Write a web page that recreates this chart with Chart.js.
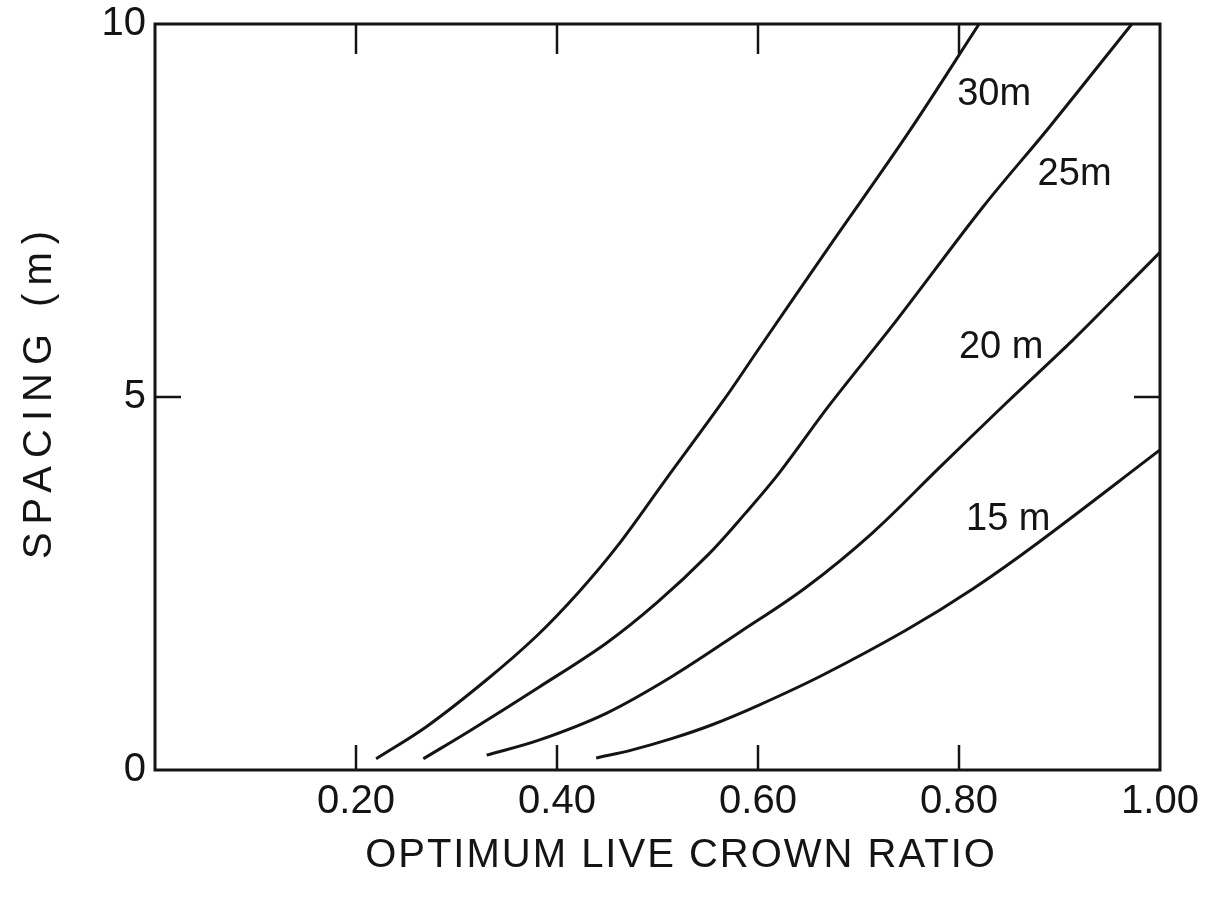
<!DOCTYPE html>
<html>
<head>
<meta charset="utf-8">
<title>Optimum live crown ratio vs spacing</title>
<script src="https://cdn.jsdelivr.net/npm/chart.js@4.4.1/dist/chart.umd.min.js"></script>
<style>
  html, body { margin: 0; padding: 0; background: #fff; }
  #wrap { width: 1230px; height: 900px; }
</style>
</head>
<body>
<div id="wrap"><canvas id="crownChart" width="1230" height="900"></canvas></div>
<script>
// Curves (x = optimum live crown ratio, y = spacing in m)
const ratio30 = [0.22, 0.27, 0.33, 0.38, 0.422, 0.46, 0.508, 0.566, 0.60, 0.67, 0.75, 0.82]
const spacing30 = [0.15, 0.58, 1.21, 1.80, 2.39, 3.00, 3.89, 4.96, 5.63, 7.00, 8.55, 10.0]

const ratio25 = [0.267, 0.315, 0.382, 0.449, 0.50, 0.55, 0.588, 0.621, 0.671, 0.738, 0.824, 0.89, 0.972]
const spacing25 = [0.15, 0.54, 1.11, 1.70, 2.25, 2.88, 3.45, 3.98, 4.89, 6.03, 7.55, 8.62, 10.0]

const ratio20 = [0.33, 0.382, 0.449, 0.514, 0.581, 0.648, 0.714, 0.781, 0.847, 0.913, 0.953, 1.0]
const spacing20 = [0.20, 0.40, 0.76, 1.25, 1.84, 2.45, 3.18, 4.06, 4.92, 5.76, 6.30, 6.94]

const ratio15 = [0.439, 0.475, 0.514, 0.555, 0.601, 0.664, 0.748, 0.814, 0.88, 1.0]
const spacing15 = [0.16, 0.27, 0.42, 0.61, 0.87, 1.27, 1.88, 2.43, 3.06, 4.29]

// Axis ticks
const xTickValues = [0.2, 0.4, 0.6, 0.8, 1.0]
const yTickValues = [0, 5, 10]
const xInnerTicks = [0.2, 0.4, 0.6, 0.8]
const yInnerTicks = [5]

// Curve labels (text and where they sit, in data units)
const curveLabels = ['30m', '25m', '20 m', '15 m']
const labelRatio = [0.835, 0.915, 0.842, 0.849]
const labelSpacing = [9.05, 7.98, 5.66, 3.36]

const INK = '#141414'
const FONT = '"Liberation Sans", Arimo, Arial, sans-serif'

const toPoints = (xs, ys) => xs.map((v, i) => ({ x: v, y: ys[i] }))

const curve = (label, xs, ys) => ({
  label,
  data: toPoints(xs, ys),
  borderColor: INK,
  borderWidth: 3,
  pointRadius: 0,
  fill: false,
  showLine: true,
  tension: 0.35,
})

/**
 * Draws the boxed frame, the inward tick marks, the curve labels
 * and the two axis titles (spaced lettering like the original)
 */
const frameAndLabels = {
  id: 'frameAndLabels',
  afterDatasetsDraw(chart) {
    const { ctx, chartArea: a, scales: { x, y } } = chart
    const seg = (x1, y1, x2, y2) => {
      ctx.beginPath()
      ctx.moveTo(x1, y1)
      ctx.lineTo(x2, y2)
      ctx.stroke()
    }

    ctx.save()
    ctx.strokeStyle = INK
    ctx.lineWidth = 3
    ctx.strokeRect(a.left, a.top, a.right - a.left, a.bottom - a.top)

    ctx.lineWidth = 2.5
    xInnerTicks.forEach((v) => {
      const px = x.getPixelForValue(v)
      seg(px, a.bottom, px, a.bottom - 25)
      seg(px, a.top, px, a.top + 30)
    })
    yInnerTicks.forEach((v) => {
      const py = y.getPixelForValue(v)
      seg(a.left, py, a.left + 26, py)
      seg(a.right, py, a.right - 26, py)
    })

    // curve labels
    ctx.fillStyle = INK
    ctx.font = '38px ' + FONT
    ctx.textAlign = 'center'
    ctx.textBaseline = 'middle'
    curveLabels.forEach((t, i) => {
      ctx.fillText(t, x.getPixelForValue(labelRatio[i]), y.getPixelForValue(labelSpacing[i]))
    })

    // axis titles
    ctx.font = '40px ' + FONT
    ctx.letterSpacing = '2px'
    ctx.fillText('OPTIMUM LIVE CROWN RATIO', 681, 856)

    ctx.translate(40, 395)
    ctx.rotate(-Math.PI / 2)
    ctx.letterSpacing = '8px'
    ctx.fillText('SPACING (m)', 4, 0)
    ctx.restore()
  },
}

const chart = new Chart(document.getElementById('crownChart'), {
  type: 'scatter',
  data: {
    datasets: [
      curve('30 m', ratio30, spacing30),
      curve('25 m', ratio25, spacing25),
      curve('20 m', ratio20, spacing20),
      curve('15 m', ratio15, spacing15),
    ],
  },
  options: {
    responsive: false,
    animation: false,
    devicePixelRatio: 1,
    layout: {
      padding: { top: 24, right: 70, bottom: 0, left: 0 },
    },
    plugins: {
      legend: { display: false },
      tooltip: { enabled: false },
    },
    scales: {
      x: {
        type: 'linear',
        min: 0,
        max: 1,
        grid: { display: false, drawTicks: false },
        border: { display: false },
        afterBuildTicks: (scale) => {
          scale.ticks = xTickValues.map((v) => ({ value: v }))
        },
        afterFit: (scale) => {
          scale.height = 130
          scale.paddingLeft = 0
          scale.paddingRight = 0
        },
        ticks: {
          color: INK,
          padding: 8,
          maxRotation: 0,
          font: { family: FONT, size: 40 },
          callback: (v) => Number(v).toFixed(2),
        },
        title: { display: false },
      },
      y: {
        type: 'linear',
        min: 0,
        max: 10,
        grid: { display: false, drawTicks: false },
        border: { display: false },
        afterBuildTicks: (scale) => {
          scale.ticks = yTickValues.map((v) => ({ value: v }))
        },
        afterFit: (scale) => {
          scale.width = 155
          scale.paddingTop = 0
          scale.paddingBottom = 0
        },
        ticks: {
          color: INK,
          padding: 9,
          font: { family: FONT, size: 40 },
        },
        title: { display: false },
      },
    },
  },
  plugins: [frameAndLabels],
})
</script>
</body>
</html>
